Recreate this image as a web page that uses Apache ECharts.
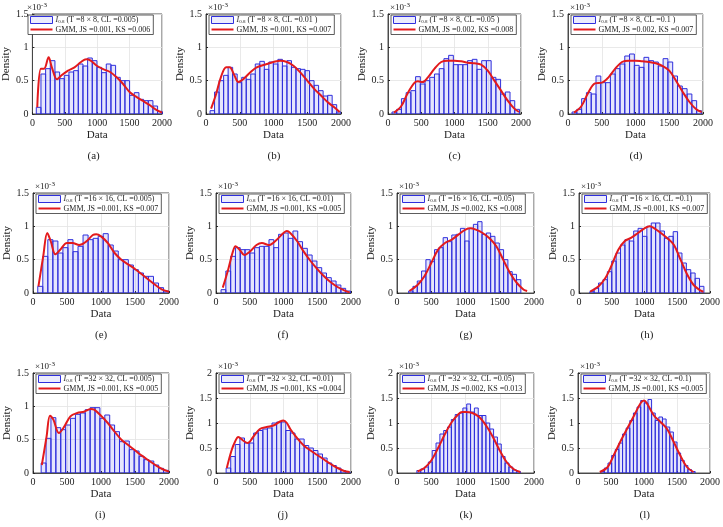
<!DOCTYPE html>
<html>
<head>
<meta charset="utf-8">
<script src="https://cdn.jsdelivr.net/npm/echarts@6/dist/echarts.min.js"></script>
<style>
  html, body { margin: 0; padding: 0; background: #fff; }
  #chart { width: 723px; height: 527px; }
</style>
</head>
<body>
<div id="chart"></div>
<script>
// panel labels and legend numbers
const panelIds = ['a', 'b', 'c', 'd', 'e', 'f', 'g', 'h', 'i', 'j', 'k', 'l']
const tileSizes = ['8 × 8', '8 × 8', '8 × 8', '8 × 8', '16 × 16', '16 × 16', '16 × 16', '16 × 16', '32 × 32', '32 × 32', '32 × 32', '32 × 32']
const clValues = ['0.005', '0.01 ', '0.05 ', '0.1 ', '0.005', '0.01', '0.05', '0.1', '0.005', '0.01', '0.05', '0.1']
const jsValues = ['0.001', '0.001', '0.002', '0.002', '0.001', '0.001', '0.002', '0.001', '0.001', '0.001', '0.002', '0.001']
const ksValues = ['0.006', '0.007', '0.008', '0.007', '0.007', '0.005', '0.008', '0.007', '0.005', '0.004', '0.013', '0.005']
const yMaxes = [1.5, 1.5, 1.5, 1.5, 1.5, 1.5, 1.5, 1.5, 1.5, 2, 2, 2]
const xTicks = [0, 500, 1000, 1500, 2000]

// histogram bins (first edge, width), heights in units of 1e-3
const binStarts = [60, 60, 60, 60, 70, 75, 170, 165, 120, 150, 290, 345]
const binWidths = [72, 67, 71, 71, 74, 71, 63, 67, 72, 68, 56, 55]

const hist_a = [0.1, 0.6, 0.68, 0.8, 0.63, 0.53, 0.58, 0.63, 0.65, 0.75, 0.72, 0.84, 0.8, 0.7, 0.62, 0.75, 0.73, 0.55, 0.5, 0.5, 0.28, 0.32, 0.22, 0.2, 0.2, 0.12, 0.04]
const hist_b = [0.05, 0.33, 0.5, 0.58, 0.7, 0.6, 0.47, 0.55, 0.52, 0.6, 0.75, 0.79, 0.67, 0.78, 0.75, 0.82, 0.72, 0.8, 0.7, 0.68, 0.67, 0.65, 0.5, 0.43, 0.35, 0.27, 0.28, 0.14, 0.03]
const hist_c = [0.03, 0.07, 0.23, 0.32, 0.35, 0.56, 0.45, 0.5, 0.55, 0.6, 0.68, 0.83, 0.88, 0.74, 0.74, 0.74, 0.8, 0.82, 0.67, 0.8, 0.8, 0.55, 0.52, 0.3, 0.33, 0.2, 0.07]
const hist_d = [0.03, 0.07, 0.23, 0.32, 0.3, 0.57, 0.47, 0.47, 0.6, 0.68, 0.75, 0.87, 0.9, 0.73, 0.7, 0.85, 0.8, 0.78, 0.72, 0.83, 0.78, 0.57, 0.42, 0.38, 0.3, 0.2, 0.05]
const hist_e = [0.1, 0.55, 0.8, 0.78, 0.6, 0.68, 0.8, 0.62, 0.7, 0.87, 0.8, 0.82, 0.85, 0.89, 0.72, 0.63, 0.5, 0.5, 0.42, 0.35, 0.3, 0.25, 0.25, 0.15, 0.08, 0.03]
const hist_f = [0.05, 0.33, 0.55, 0.68, 0.65, 0.65, 0.6, 0.68, 0.7, 0.7, 0.8, 0.68, 0.88, 0.9, 0.82, 0.93, 0.77, 0.67, 0.57, 0.48, 0.38, 0.3, 0.23, 0.18, 0.12, 0.07, 0.03]
const hist_g = [0.03, 0.1, 0.18, 0.33, 0.5, 0.47, 0.65, 0.68, 0.83, 0.77, 0.87, 0.88, 0.97, 0.78, 0.97, 1.03, 1.07, 0.88, 0.9, 0.85, 0.75, 0.65, 0.5, 0.32, 0.28, 0.2]
const hist_h = [0.02, 0.07, 0.15, 0.2, 0.32, 0.48, 0.6, 0.72, 0.8, 0.78, 0.93, 0.97, 0.85, 1.0, 1.05, 1.05, 0.93, 0.82, 0.85, 0.92, 0.6, 0.45, 0.35, 0.3, 0.22, 0.1]
const hist_i = [0.15, 0.52, 0.83, 0.68, 0.65, 0.72, 0.82, 0.88, 0.9, 0.95, 0.98, 0.98, 0.82, 0.87, 0.72, 0.62, 0.47, 0.48, 0.35, 0.33, 0.25, 0.2, 0.18, 0.12, 0.07, 0.04, 0.03]
const hist_j = [0.1, 0.33, 0.57, 0.7, 0.6, 0.6, 0.8, 0.85, 0.88, 0.9, 1.0, 1.02, 1.02, 0.85, 0.8, 0.68, 0.68, 0.55, 0.5, 0.45, 0.38, 0.3, 0.2, 0.15, 0.1, 0.05, 0.02]
const hist_k = [0.05, 0.08, 0.12, 0.22, 0.45, 0.6, 0.78, 0.85, 0.92, 1.07, 1.17, 1.2, 1.3, 1.38, 1.22, 1.3, 1.15, 1.15, 1.0, 0.88, 0.72, 0.58, 0.33, 0.2, 0.12, 0.06, 0.03]
const hist_l = [0.03, 0.1, 0.2, 0.35, 0.47, 0.6, 0.78, 0.9, 1.05, 1.2, 1.32, 1.45, 1.4, 1.47, 1.2, 1.05, 1.12, 1.08, 0.92, 0.82, 0.62, 0.4, 0.25, 0.15, 0.07, 0.03]

// GMM fit curves, [data, density 1e-3]
const gmm_a = [[75, 0.1], [130, 0.68], [180, 0.68], [250, 0.85], [300, 0.7], [380, 0.52], [450, 0.58], [550, 0.65], [650, 0.7], [750, 0.78], [830, 0.82], [900, 0.8], [1000, 0.72], [1100, 0.67], [1200, 0.63], [1300, 0.55], [1400, 0.45], [1500, 0.33], [1600, 0.26], [1700, 0.2], [1800, 0.14], [1900, 0.07], [2000, 0.02]]
const gmm_b = [[75, 0.08], [150, 0.3], [220, 0.55], [300, 0.7], [350, 0.7], [420, 0.58], [480, 0.48], [550, 0.52], [650, 0.62], [750, 0.7], [900, 0.75], [1000, 0.78], [1100, 0.8], [1200, 0.78], [1300, 0.72], [1400, 0.62], [1500, 0.5], [1600, 0.38], [1700, 0.28], [1800, 0.18], [1900, 0.1], [1980, 0.03]]
const gmm_c = [[90, 0.02], [200, 0.12], [300, 0.32], [400, 0.47], [450, 0.49], [520, 0.48], [600, 0.55], [700, 0.68], [800, 0.78], [900, 0.8], [1000, 0.8], [1100, 0.79], [1200, 0.77], [1300, 0.76], [1400, 0.74], [1500, 0.65], [1600, 0.5], [1700, 0.35], [1800, 0.2], [1900, 0.08], [1970, 0.03]]
const gmm_d = [[90, 0.02], [200, 0.12], [300, 0.32], [400, 0.46], [500, 0.47], [600, 0.55], [700, 0.68], [800, 0.78], [900, 0.8], [1000, 0.8], [1100, 0.79], [1200, 0.78], [1300, 0.76], [1400, 0.72], [1500, 0.65], [1600, 0.5], [1700, 0.33], [1800, 0.18], [1900, 0.07], [1980, 0.03]]
const gmm_e = [[80, 0.1], [150, 0.55], [210, 0.9], [260, 0.78], [330, 0.58], [400, 0.65], [500, 0.75], [580, 0.75], [680, 0.72], [780, 0.77], [880, 0.87], [930, 0.88], [1000, 0.85], [1100, 0.75], [1200, 0.6], [1300, 0.5], [1400, 0.43], [1500, 0.36], [1600, 0.28], [1700, 0.2], [1800, 0.12], [1900, 0.05], [2000, 0.02]]
const gmm_f = [[100, 0.08], [180, 0.35], [250, 0.62], [290, 0.7], [350, 0.65], [420, 0.57], [500, 0.62], [600, 0.72], [680, 0.75], [780, 0.72], [900, 0.8], [1000, 0.9], [1050, 0.93], [1100, 0.9], [1200, 0.78], [1300, 0.62], [1400, 0.48], [1500, 0.36], [1600, 0.25], [1700, 0.16], [1800, 0.09], [1900, 0.04], [1980, 0.01]]
const gmm_g = [[180, 0.03], [300, 0.12], [400, 0.25], [500, 0.45], [600, 0.65], [700, 0.75], [800, 0.8], [900, 0.88], [1000, 0.95], [1070, 0.97], [1150, 0.95], [1250, 0.9], [1350, 0.82], [1450, 0.7], [1550, 0.5], [1650, 0.3], [1750, 0.15], [1850, 0.05], [1900, 0.03]]
const gmm_h = [[170, 0.02], [300, 0.1], [400, 0.22], [500, 0.42], [600, 0.65], [700, 0.78], [800, 0.83], [900, 0.9], [1000, 0.97], [1080, 1.0], [1150, 0.97], [1250, 0.9], [1350, 0.82], [1450, 0.72], [1550, 0.5], [1650, 0.28], [1750, 0.12], [1850, 0.04], [1900, 0.02]]
const gmm_i = [[130, 0.12], [200, 0.55], [250, 0.86], [300, 0.8], [380, 0.6], [450, 0.68], [550, 0.85], [650, 0.9], [750, 0.92], [850, 0.96], [900, 0.95], [1000, 0.86], [1100, 0.75], [1200, 0.62], [1300, 0.5], [1400, 0.42], [1500, 0.34], [1600, 0.26], [1700, 0.19], [1800, 0.12], [1900, 0.06], [2000, 0.02]]
const gmm_j = [[160, 0.1], [230, 0.45], [280, 0.62], [330, 0.72], [400, 0.65], [470, 0.6], [550, 0.72], [650, 0.88], [750, 0.92], [850, 0.95], [950, 1.03], [1000, 1.05], [1050, 1.0], [1100, 0.88], [1200, 0.7], [1300, 0.55], [1400, 0.45], [1500, 0.36], [1600, 0.27], [1700, 0.18], [1800, 0.1], [1900, 0.04], [1980, 0.02]]
const gmm_k = [[300, 0.03], [400, 0.1], [500, 0.25], [600, 0.5], [700, 0.78], [800, 1.02], [900, 1.18], [950, 1.22], [1000, 1.22], [1100, 1.2], [1200, 1.12], [1300, 0.95], [1400, 0.72], [1500, 0.45], [1600, 0.22], [1700, 0.08], [1800, 0.02]]
const gmm_l = [[330, 0.02], [450, 0.12], [550, 0.38], [650, 0.65], [750, 0.9], [850, 1.15], [950, 1.4], [1000, 1.45], [1050, 1.38], [1150, 1.15], [1250, 1.02], [1350, 0.88], [1450, 0.62], [1550, 0.35], [1650, 0.12], [1750, 0.02]]

const hists = [hist_a, hist_b, hist_c, hist_d, hist_e, hist_f, hist_g, hist_h, hist_i, hist_j, hist_k, hist_l]
const gmms = [gmm_a, gmm_b, gmm_c, gmm_d, gmm_e, gmm_f, gmm_g, gmm_h, gmm_i, gmm_j, gmm_k, gmm_l]

// layout
const rowTops = [14, 193, 373]
const colLefts = [[25, 206, 388, 568], [33, 216, 397, 579], [33, 216, 397, 578]]
const colWidths = [[137, 135, 133, 135], [136, 135, 137, 135], [136, 135, 137, 135]]
const plotH = 100
const serif = 'Liberation Serif'
const edgeBlue = '#2f2fdc'
const fitRed = '#e31a1c'

const chart = echarts.init(document.getElementById('chart'), null, { renderer: 'canvas' })

const grids = []
const xAxes = []
const yAxes = []
const series = []
const legends = []
const graphics = []
const labelMap = {}

panelIds.forEach((id, k) => {
  const row = Math.floor(k / 4)
  const col = k % 4
  const left = colLefts[row][col]
  const width = colWidths[row][col]
  const top = rowTops[row]

  grids.push({
    left: left, top: top, width: width, height: plotH,
    show: true, borderColor: '#262626', borderWidth: 0.8, backgroundColor: '#fff',
  })
  xAxes.push({
    gridIndex: k, type: 'value', min: 0, max: 2000, interval: 500,
    name: 'Data', nameLocation: 'middle', nameGap: 16,
    nameTextStyle: { fontFamily: serif, fontSize: 11, color: '#222' },
    axisLine: { lineStyle: { color: '#262626', width: 0.8 } },
    axisTick: { inside: true, length: 2, lineStyle: { color: '#262626' } },
    axisLabel: { fontFamily: serif, fontSize: 10, color: '#222', margin: 4,
      formatter: (v) => (xTicks.indexOf(v) >= 0 ? String(v) : '') },
    splitLine: { show: true, lineStyle: { color: '#e3e3e3', width: 0.8 } },
  })
  yAxes.push({
    gridIndex: k, type: 'value', min: 0, max: yMaxes[k], interval: 0.5,
    name: 'Density', nameLocation: 'middle', nameGap: 17,
    nameTextStyle: { fontFamily: serif, fontSize: 11, color: '#222' },
    axisLine: { lineStyle: { color: '#262626', width: 0.8 } },
    axisTick: { inside: true, length: 2, lineStyle: { color: '#262626' } },
    axisLabel: { fontFamily: serif, fontSize: 10, color: '#222', margin: 4 },
    splitLine: { show: true, lineStyle: { color: '#e3e3e3', width: 0.8 } },
  })

  const histName = 'hist_' + id
  const gmmName = 'gmm_' + id
  labelMap[histName] = '{i|I}{s|0.8} (T =' + tileSizes[k] + ', CL =' + clValues[k] + ')'
  labelMap[gmmName] = 'GMM, JS =' + jsValues[k] + ', KS =' + ksValues[k]

  const bars = hists[k].map((h, i) => [binStarts[k] + i * binWidths[k], binStarts[k] + (i + 1) * binWidths[k], h])
  series.push({
    name: histName, type: 'custom', xAxisIndex: k, yAxisIndex: k,
    data: bars, encode: { x: [0, 1], y: 2 }, clip: true, silent: true,
    itemStyle: { color: 'rgba(70,70,235,0.14)', borderColor: edgeBlue },
    renderItem: (params, api) => {
      const p0 = api.coord([api.value(0), api.value(2)])
      const p1 = api.coord([api.value(1), 0])
      return {
        type: 'rect',
        shape: { x: p0[0], y: p0[1], width: p1[0] - p0[0], height: p1[1] - p0[1] },
        style: { fill: 'rgba(70,70,235,0.14)', stroke: edgeBlue, lineWidth: 1 },
      }
    },
  })
  series.push({
    name: gmmName, type: 'line', xAxisIndex: k, yAxisIndex: k,
    data: gmms[k], smooth: 0.35, symbol: 'none', silent: true,
    lineStyle: { color: fitRed, width: 2 }, itemStyle: { color: fitRed },
    z: 5,
  })

  legends.push({
    left: left + 3, top: top + 1, orient: 'vertical', itemGap: 1,
    itemWidth: 22, itemHeight: 7, padding: [1, 3, 1, 2],
    backgroundColor: '#fff', borderColor: '#333', borderWidth: 0.8,
    selectedMode: false,
    data: [
      { name: histName, icon: 'rect', itemStyle: { color: 'rgba(70,70,235,0.1)', borderColor: edgeBlue, borderWidth: 1 } },
      { name: gmmName, icon: 'path://M0,0H22V2H0Z', itemStyle: { color: fitRed, borderWidth: 0 } },
    ],
    formatter: (name) => labelMap[name],
    textStyle: {
      fontFamily: serif, fontSize: 8, color: '#222', padding: [0, 0, 0, -2],
      rich: {
        i: { fontFamily: serif, fontSize: 8, fontStyle: 'italic', color: '#222' },
        s: { fontFamily: serif, fontSize: 5, color: '#222', padding: [4, 0, 0, 0] },
      },
    },
  })

  graphics.push({
    type: 'text', left: left + 2, top: top - 12,
    style: {
      text: '{m|×10}{e|-3}', fill: '#222',
      rich: {
        m: { fontFamily: serif, fontSize: 9, fill: '#222' },
        e: { fontFamily: serif, fontSize: 7, fill: '#222', padding: [0, 0, 5, 0] },
      },
    },
  })
  graphics.push({
    type: 'text', left: left + width / 2 - 6, top: top + plotH + 37,
    style: { text: '(' + id + ')', fontFamily: serif, fontSize: 11, fill: '#222' },
  })
})

chart.setOption({
  backgroundColor: '#fff',
  animation: false,
  grid: grids,
  xAxis: xAxes,
  yAxis: yAxes,
  legend: legends,
  series: series,
  graphic: graphics,
})
</script>
</body>
</html>
